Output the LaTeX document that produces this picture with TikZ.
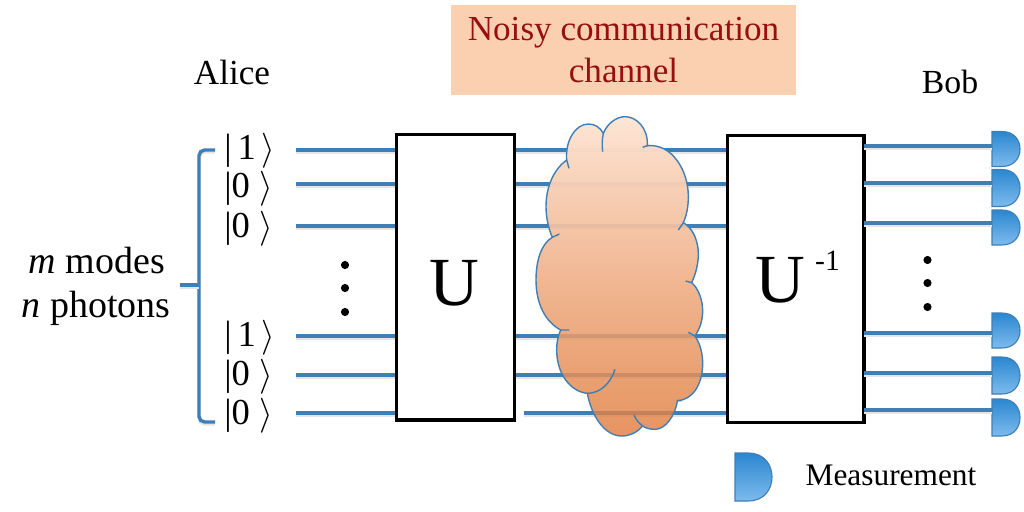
\documentclass[tikz,border=0pt]{standalone}
\usepackage{fontspec}
\setmainfont{Liberation Serif}
\usetikzlibrary{fadings}
\definecolor{wireblue}{HTML}{3F7FB5}
\definecolor{titlepeach}{HTML}{FBD0B0}
\definecolor{titlered}{HTML}{990F0F}
\definecolor{cloudtop}{HTML}{FEE6D6}
\definecolor{cloudbot}{HTML}{E07A3A}
\definecolor{dettop}{HTML}{2B87CF}
\definecolor{detbot}{HTML}{7DBBEE}
\tikzfading[name=cloudfade,top color=transparent!0,bottom color=transparent!20]
\tikzset{
  wire/.style={draw=wireblue,line width=2.4pt,
    preaction={draw=black!10,line width=2.4pt,transform canvas={yshift=-1.4pt}}},
  box/.style={draw=black,line width=2.2pt,fill=white,anchor=north west,inner sep=0pt},
  ket/.style={anchor=west,inner sep=0pt,font=\fontsize{26}{30}\selectfont},
  dotnode/.style={circle,fill=black,inner sep=0pt,minimum size=5.8pt},
  detshape/.style={draw=wireblue,line width=0.8pt,top color=dettop,bottom color=detbot},
  lbl/.style={inner sep=0pt,font=\fontsize{25}{30}\selectfont},
}
% name, left x, mid y, width, half height
\newcommand{\detector}[5]{
  \path [detshape] (#2,#3-#5) -- (#2+#4*0.35,#3-#5)
    .. controls (#2+#4*0.8,#3-#5) and (#2+#4,#3-#5*0.5) .. (#2+#4,#3)
    .. controls (#2+#4,#3+#5*0.5) and (#2+#4*0.8,#3+#5) .. (#2+#4*0.35,#3+#5)
    -- (#2,#3+#5) -- cycle;
  \coordinate (#1) at (#2,#3);
}
\newcommand{\cloudoutline}{
  (250,100) .. controls (262,70) and (290,50) .. (315,50)
  .. controls (350,50) and (385,85) .. (382,137)
  .. controls (455,130) and (505,210) .. (505,290)
  .. controls (505,320) and (500,345) .. (490,368)
  .. controls (520,385) and (535,425) .. (535,462)
  .. controls (535,490) and (528,520) .. (515,548)
  .. controls (535,565) and (548,600) .. (548,632)
  .. controls (548,660) and (540,685) .. (525,708)
  .. controls (540,730) and (548,760) .. (548,790)
  .. controls (548,850) and (520,900) .. (472,902)
  .. controls (465,950) and (435,988) .. (405,988)
  .. controls (390,988) and (378,985) .. (368,978)
  .. controls (350,998) and (330,1008) .. (305,1008)
  .. controls (255,1008) and (215,950) .. (202,880)
  .. controls (150,875) and (110,820) .. (110,750)
  .. controls (110,730) and (113,708) .. (122,690)
  .. controls (75,665) and (48,610) .. (48,540)
  .. controls (48,480) and (65,430) .. (97,412)
  .. controls (85,385) and (78,350) .. (78,320)
  .. controls (78,255) and (105,205) .. (140,180)
  .. controls (135,125) and (165,72) .. (205,72)
  .. controls (225,72) and (240,82) .. (250,100) -- cycle
}
\begin{document}
\begin{tikzpicture}[x=0.025cm,y=-0.025cm]
\useasboundingbox (0,0) rectangle (1024,512);

% title
\node (title) at (623.5,50) [fill=titlepeach,minimum width=246pt,minimum height=64pt,inner sep=0pt,
  align=center,text=titlered,font=\fontsize{25}{30.5}\selectfont] {Noisy communication\\channel};
\node (alice) at (232,72) [lbl] {Alice};
\node (bob) at (950,82) [lbl,font=\fontsize{24}{30}\selectfont] {Bob};

% boxes
\node (boxu) at (395,133) [box,minimum width=84pt,minimum height=203pt] {};
\node (boxv) at (726,134) [box,minimum width=97pt,minimum height=204pt] {};
\node (ulabel) at (454,283) [lbl,font=\fontsize{49}{56}\selectfont] {U};
\node (vlabel) at (780,280) [lbl,font=\fontsize{49}{56}\selectfont] {U};
\node (vexp) at (827.5,261) [lbl,font=\fontsize{21}{26}\selectfont] {-1};

% kets
\node (k1) at (224,151) [ket] {|\,1\kern3.7pt$\rangle$};
\node (k2) at (224,189) [ket] {|0 $\rangle$};
\node (k3) at (224,229) [ket] {|0 $\rangle$};
\node (k4) at (224,338) [ket] {|\,1\kern3.7pt$\rangle$};
\node (k5) at (224,377) [ket] {|0 $\rangle$};
\node (k6) at (224,416) [ket] {|0 $\rangle$};

% wires into U
\coordinate (a1) at (296,150);
\coordinate (a2) at (296,184);
\coordinate (a3) at (296,226);
\coordinate (a4) at (296,336);
\coordinate (a5) at (296,375);
\coordinate (a6) at (296,413);
\draw [wire] (a1) -- (a1 -| boxu.west);
\draw [wire] (a2) -- (a2 -| boxu.west);
\draw [wire] (a3) -- (a3 -| boxu.west);
\draw [wire] (a4) -- (a4 -| boxu.west);
\draw [wire] (a5) -- (a5 -| boxu.west);
\draw [wire] (a6) -- (a6 -| boxu.west);

% wires through the channel
\coordinate (b6) at (524,413);
\draw [wire] (a1 -| boxu.east) -- (a1 -| boxv.west);
\draw [wire] (a2 -| boxu.east) -- (a2 -| boxv.west);
\draw [wire] (a3 -| boxu.east) -- (a3 -| boxv.west);
\draw [wire] (a4 -| boxu.east) -- (a4 -| boxv.west);
\draw [wire] (a5 -| boxu.east) -- (a5 -| boxv.west);
\draw [wire] (b6) -- (b6 -| boxv.west);

% cloud
\begin{scope}[shift={(520,100)},scale=1/3]
\path [top color=cloudtop,bottom color=cloudbot,path fading=cloudfade,fit fading=true] \cloudoutline;
\draw [wireblue,line width=1pt] \cloudoutline;
\draw [wireblue,line width=1pt]
  (250,100) .. controls (246,118) and (246,138) .. (248,155)
  (382,137) -- (368,142)
  (490,368) -- (475,390)
  (515,548) -- (497,543)
  (525,708) -- (505,697)
  (472,902) -- (485,902)
  (368,978) .. controls (358,970) and (348,960) .. (342,945)
  (202,880) .. controls (240,880) and (272,850) .. (285,808)
  (122,690) -- (148,690)
  (97,412) -- (118,402)
  (140,180) -- (147,205);
\end{scope}

% detectors
\detector{d1}{992}{149}{28}{17.5}
\detector{d2}{992}{188}{28}{18.5}
\detector{d3}{992}{227.5}{28}{17.5}
\detector{d4}{992}{330.5}{28}{17.5}
\detector{d5}{992}{375.5}{28}{18.5}
\detector{d6}{992}{417.5}{28}{18.5}

% wires out of U^-1
\coordinate (c1) at (864,146);
\coordinate (c2) at (864,183);
\coordinate (c3) at (864,223);
\coordinate (c4) at (864,333);
\coordinate (c5) at (864,373);
\coordinate (c6) at (864,410);
\draw [wire] (c1) -- (c1 -| d1);
\draw [wire] (c2) -- (c2 -| d2);
\draw [wire] (c3) -- (c3 -| d3);
\draw [wire] (c4) -- (c4 -| d4);
\draw [wire] (c5) -- (c5 -| d5);
\draw [wire] (c6) -- (c6 -| d6);

% dots
\node (ld1) at (345,265) [dotnode] {};
\node (ld2) at (345,288) [dotnode] {};
\node (ld3) at (345,312) [dotnode] {};
\node (rd1) at (927.5,260) [dotnode] {};
\node (rd2) at (927.5,283) [dotnode] {};
\node (rd3) at (927.5,307) [dotnode] {};

% brace
\coordinate (bt) at (215,150);
\coordinate (bb) at (215,422);
\coordinate (bm) at (180,285);
\coordinate (bc) at (199,285);
\draw [wire,rounded corners=4pt] (bt) -| (bc) |- (bb);
\draw [wire] (bm) -- (bc);

% side text
\node (mm) at (97,261) [lbl,font=\fontsize{27}{32}\selectfont] {\textit{m} modes};
\node (np) at (96,308) [lbl,font=\fontsize{27}{32}\selectfont] {\textit{n} photons};

% legend
\detector{dl}{735}{477}{37}{24}
\node (meas) at (891,475) [lbl,font=\fontsize{22.3}{26}\selectfont] {Measurement};
\end{tikzpicture}
\end{document}
